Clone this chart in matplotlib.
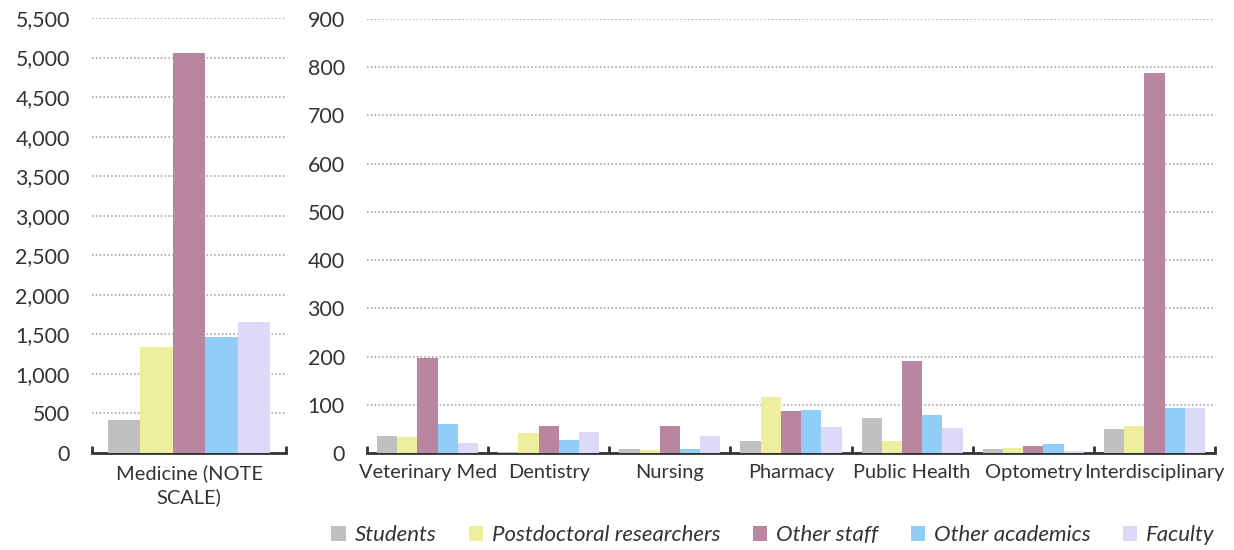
import matplotlib
matplotlib.use("Agg")
import matplotlib.pyplot as plt
from matplotlib.patches import Patch
import numpy as np

plt.rcParams['font.family'] = ['Lato', 'DejaVu Sans']

# ---------- Data ----------
series = ["Students", "Postdoctoral researchers", "Other staff", "Other academics", "Faculty"]
colors = ["#C0C0C0", "#EEEF9E", "#B8869F", "#90CEF8", "#DCDAF8"]

left_cats = ["Medicine (NOTE\nSCALE)"]
left_vals = {
    "Students": [420],
    "Postdoctoral researchers": [1345],
    "Other staff": [5060],
    "Other academics": [1468],
    "Faculty": [1660],
}

right_cats = ["Veterinary Med", "Dentistry", "Nursing", "Pharmacy", "Public Health",
              "Optometry", "Interdisciplinary"]
students = [36, 3, 8, 24, 72, 8, 50]
postdocs = [33, 41, 6, 116, 24, 10, 57]
other_staff = [198, 57, 55, 87, 190, 15, 788]
other_academics = [60, 26, 8, 90, 78, 18, 94]
faculty = [20, 43, 35, 53, 51, 5, 93]
right_vals = [students, postdocs, other_staff, other_academics, faculty]

TXT = "#333333"

# ---------- Plotting ----------
W, H = 1234, 550
fig = plt.figure(figsize=(W / 100, H / 100), dpi=100)

def px_axes(x0, y0, x1, y1):
    return fig.add_axes([x0 / W, 1 - y1 / H, (x1 - x0) / W, (y1 - y0) / H])

def style(ax, ymax, step, ncat):
    ax.set_ylim(0, ymax)
    ax.set_xlim(-0.5, ncat - 0.5)
    ax.set_yticks(np.arange(0, ymax + 1, step))
    ax.yaxis.set_major_formatter(matplotlib.ticker.FuncFormatter(lambda v, p: f"{int(v):,}"))
    ax.grid(axis='y', linestyle=(0, (1, 1.5)), color='#999999', linewidth=1.1)
    ax.set_axisbelow(True)
    for s in ['top', 'right', 'left']:
        ax.spines[s].set_visible(False)
    ax.spines['bottom'].set_color(TXT)
    ax.spines['bottom'].set_linewidth(2)
    ax.tick_params(axis='y', length=0, pad=16, labelsize=15.4, labelcolor=TXT)
    ax.tick_params(axis='x', which='major', length=0, pad=8, labelsize=14.4, labelcolor=TXT)
    ax.set_xticks(np.arange(-0.5, ncat), minor=True)
    ax.tick_params(axis='x', which='minor', direction='in', length=5, width=2, color=TXT)

bw = 0.167
offsets = (np.arange(5) - 2) * bw

ax1 = px_axes(92, 18, 286, 453)
x = np.arange(len(left_cats))
for i, s in enumerate(series):
    ax1.bar(x + offsets[i], left_vals[s], width=bw, color=colors[i], zorder=3)
style(ax1, 5500, 500, len(left_cats))
ax1.set_xticks(x)
ax1.set_xticklabels(left_cats, linespacing=1.4)

ax2 = px_axes(367, 19, 1215, 453)
x = np.arange(len(right_cats))
for i, vals in enumerate(right_vals):
    ax2.bar(x + offsets[i], vals, width=bw, color=colors[i], zorder=3)
style(ax2, 900, 100, len(right_cats))
ax2.set_xticks(x)
ax2.set_xticklabels(right_cats)

handles = [Patch(facecolor=c, label=s) for s, c in zip(series, colors)]
fig.legend(handles=handles, loc='center', bbox_to_anchor=(773 / W, 1 - 535 / H), ncol=5,
           frameon=False, prop={'style': 'italic', 'size': 16}, labelcolor=TXT,
           handlelength=0.65, handleheight=0.65, handletextpad=0.4, columnspacing=1.45)

fig.savefig("out.png", dpi=100)
